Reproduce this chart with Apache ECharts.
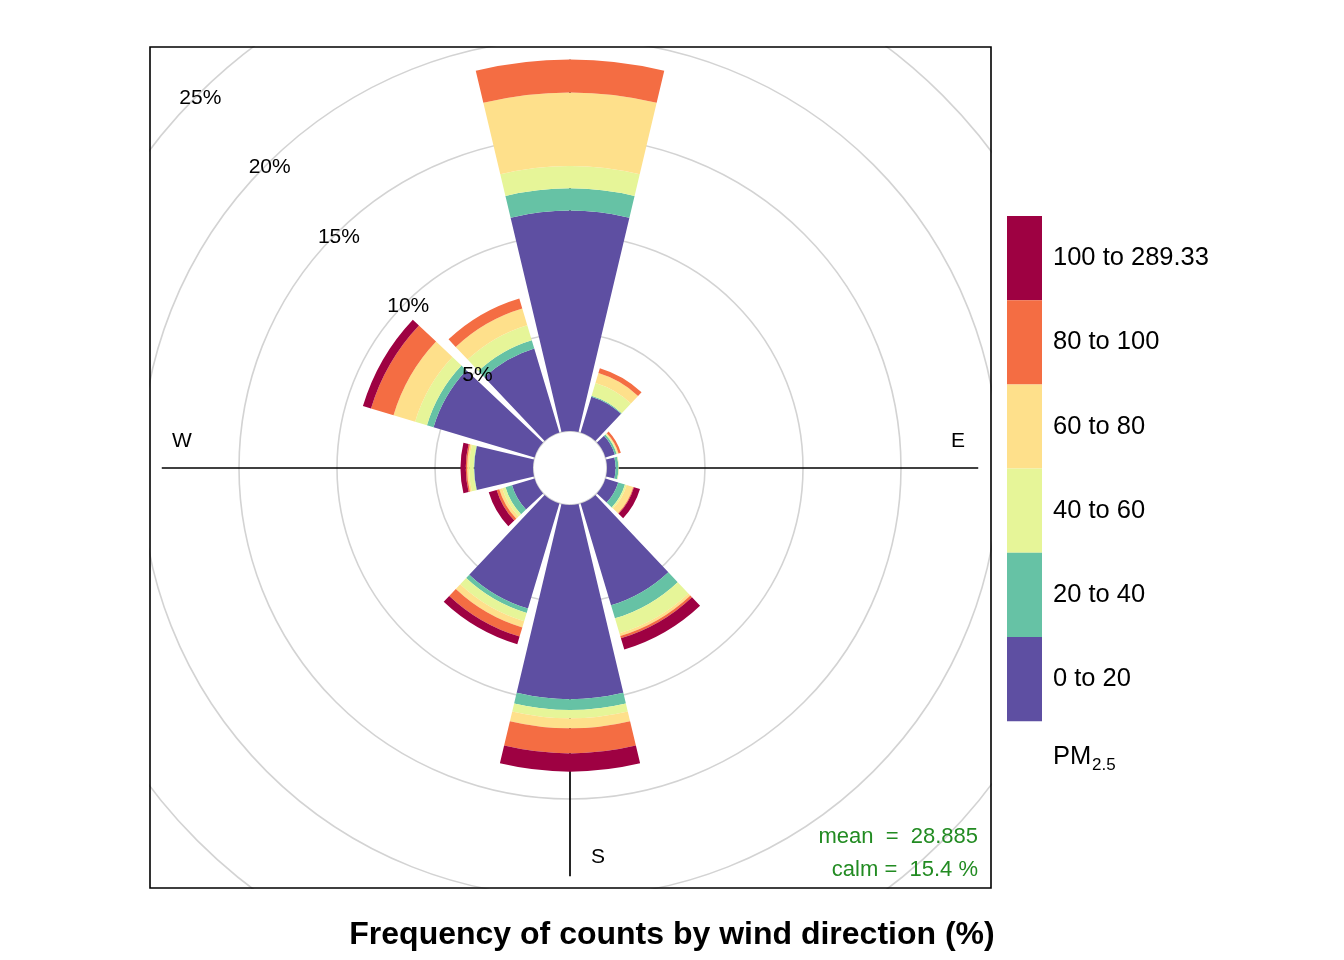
<!DOCTYPE html>
<html>
<head>
<meta charset="utf-8">
<script src="https://cdn.jsdelivr.net/npm/echarts@6/dist/echarts.min.js"></script>
<style>
  html, body { margin: 0; padding: 0; background: #fff; }
  #chart { width: 1344px; height: 960px; }
</style>
</head>
<body>
<div id="chart"></div>
<script>
// wind sectors, 30 degrees each, clockwise from north
const directions = ['N', 'NNE', 'ENE', 'E', 'ESE', 'SSE', 'S', 'SSW', 'WSW', 'W', 'WNW', 'NNW'];
const binLabels = ['0 to 20', '20 to 40', '40 to 60', '60 to 80', '80 to 100', '100 to 289.33'];
const binColors = ['#5E4FA2', '#66C2A5', '#E6F598', '#FEE08B', '#F46D43', '#9E0142'];

// frequency (%) of each PM2.5 band per sector
const pm0to20   = [11.24, 1.91, 0.50, 0.44, 0.68, 5.42, 9.90, 5.60, 1.20, 3.00, 5.38, 4.48];
const pm20to40  = [1.14, 0.05, 0.10, 0.14, 0.36, 0.70, 0.56, 0.23, 0.35, 0.02, 0.35, 0.44];
const pm40to60  = [1.14, 0.68, 0.05, 0.03, 0.09, 0.79, 0.42, 0.44, 0.17, 0.24, 0.63, 0.80];
const pm60to80  = [3.74, 0.53, 0.05, 0.00, 0.35, 0.15, 0.51, 0.33, 0.16, 0.10, 1.15, 0.89];
const pm80to100 = [1.68, 0.26, 0.12, 0.00, 0.04, 0.12, 1.28, 0.49, 0.14, 0.07, 1.20, 0.53];
const pm100up   = [0.00, 0.00, 0.00, 0.00, 0.32, 0.60, 0.93, 0.41, 0.42, 0.27, 0.43, 0.00];

const ringTicks = [5, 10, 15, 20, 25];
const meanValue = '28.885';
const calmValue = '15.4';

const bandData = [pm0to20, pm20to40, pm40to60, pm60to80, pm80to100, pm100up];
const totals = directions.map((d, i) => bandData.reduce((s, b) => s + b[i], 0));
const maxFreq = Math.max(...totals);

const font = 'Liberation Sans, Arial, Helvetica, sans-serif';
const chart = echarts.init(document.getElementById('chart'));

const barSeries = bandData.map((vals, k) => ({
    name: binLabels[k],
    type: 'bar',
    coordinateSystem: 'polar',
    polarIndex: 0,
    stack: 'pm',
    barCategoryGap: '11%',
    itemStyle: { color: binColors[k] },
    data: vals,
    z: 3,
    silent: true
}));

chart.setOption({
    animation: false,
    backgroundColor: '#fff',
    title: {
        text: 'Frequency of counts by wind direction (%)',
        left: 'center',
        top: 914,
        z: 300,
        textStyle: { fontFamily: font, fontSize: 32, fontWeight: 'bold', color: '#000' }
    },
    legend: {
        orient: 'vertical',
        left: 1007,
        top: 216,
        padding: 0,
        itemGap: 0,
        itemWidth: 35,
        itemHeight: 84.2,
        icon: 'rect',
        selectedMode: false,
        z: 300,
        data: binLabels.slice().reverse(),
        textStyle: { fontFamily: font, fontSize: 25.5, color: '#000', padding: [3, 0, 0, 6] }
    },
    polar: [
        { center: [570, 468], radius: [37, 527] },
        { center: [570, 468], radius: [37, 527] }
    ],
    angleAxis: [
        {
            polarIndex: 0,
            type: 'category',
            data: directions,
            startAngle: 105,
            clockwise: true,
            boundaryGap: true,
            axisLine: { show: false },
            axisTick: { show: false },
            axisLabel: { show: false },
            splitLine: { show: false }
        },
        {
            polarIndex: 1,
            type: 'value',
            min: 0,
            max: 360,
            startAngle: 90,
            clockwise: true,
            show: false
        }
    ],
    radiusAxis: [
        {
            polarIndex: 0,
            type: 'value',
            min: 0,
            max: 25,
            interval: 5,
            axisLine: { show: false },
            axisTick: { show: false },
            axisLabel: { show: false },
            splitLine: { show: true, lineStyle: { color: '#d3d3d3', width: 1.6 } }
        },
        {
            polarIndex: 1,
            type: 'value',
            min: 0,
            max: 25,
            show: false
        }
    ],
    series: [
        {
            type: 'line',
            coordinateSystem: 'polar',
            polarIndex: 1,
            data: [[maxFreq, 0], [maxFreq, 180]],
            symbol: 'none',
            clip: false,
            silent: true,
            z: 2,
            lineStyle: { color: '#000', width: 1.7 }
        },
        {
            type: 'line',
            coordinateSystem: 'polar',
            polarIndex: 1,
            data: [[maxFreq, 90], [maxFreq, 270]],
            symbol: 'none',
            clip: false,
            silent: true,
            z: 2,
            lineStyle: { color: '#000', width: 1.7 }
        },
        ...barSeries,
        {
            type: 'scatter',
            coordinateSystem: 'polar',
            polarIndex: 1,
            symbolSize: 0,
            clip: false,
            silent: true,
            z: 10,
            itemStyle: { opacity: 1 },
            data: ringTicks.map(t => [t, 315]),
            label: {
                show: true,
                position: 'inside',
                offset: [3, 3],
                formatter: p => p.value[0] + '%',
                fontFamily: font,
                fontSize: 21,
                color: '#000',
                opacity: 1,
                textBorderWidth: 0
            }
        }
    ],
    graphic: [
        // white masks so the rings stop at the panel border
        { type: 'rect', z: 100, silent: true, shape: { x: 0, y: 0, width: 149, height: 960 }, style: { fill: '#fff' } },
        { type: 'rect', z: 100, silent: true, shape: { x: 992, y: 0, width: 352, height: 960 }, style: { fill: '#fff' } },
        { type: 'rect', z: 100, silent: true, shape: { x: 0, y: 0, width: 1344, height: 46 }, style: { fill: '#fff' } },
        { type: 'rect', z: 100, silent: true, shape: { x: 0, y: 889, width: 1344, height: 71 }, style: { fill: '#fff' } },
        { type: 'rect', z: 150, silent: true, shape: { x: 150, y: 47, width: 841, height: 841 }, style: { fill: null, stroke: '#000', lineWidth: 1.6 } },
        { type: 'text', z: 200, x: 182, y: 441, style: { text: 'W', font: '21px ' + font, fill: '#000', align: 'center', verticalAlign: 'middle' } },
        { type: 'text', z: 200, x: 958, y: 441, style: { text: 'E', font: '21px ' + font, fill: '#000', align: 'center', verticalAlign: 'middle' } },
        { type: 'text', z: 200, x: 598, y: 857, style: { text: 'S', font: '21px ' + font, fill: '#000', align: 'center', verticalAlign: 'middle' } },
        { type: 'text', z: 200, x: 978, y: 837, style: { text: 'mean  =  ' + meanValue, font: '22px ' + font, fill: '#228B22', align: 'right', verticalAlign: 'middle' } },
        { type: 'text', z: 200, x: 978, y: 870, style: { text: 'calm =  ' + calmValue + ' %', font: '22px ' + font, fill: '#228B22', align: 'right', verticalAlign: 'middle' } },
        { type: 'text', z: 300, x: 1053, y: 757, style: { text: 'PM', font: '25.5px ' + font, fill: '#000', align: 'left', verticalAlign: 'middle' } },
        { type: 'text', z: 300, x: 1092, y: 765, style: { text: '2.5', font: '17px ' + font, fill: '#000', align: 'left', verticalAlign: 'middle' } }
    ]
});
</script>
</body>
</html>
